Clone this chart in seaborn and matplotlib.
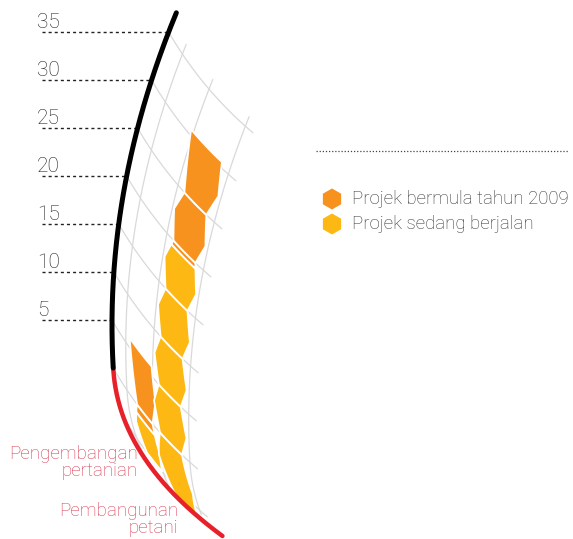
import numpy as np
import pandas as pd
import matplotlib.pyplot as plt
import seaborn as sns

# chart data
categories = ['Pengembangan\npertanian', 'Pembangunan\npetani']
bar_start = [-5.0, -6.5]      # where each bar leaves the red base curve
ongoing = [4.0, 26.0]         # Projek sedang berjalan
started_2009 = [7.0, 11.0]    # Projek bermula tahun 2009
series = ['Projek bermula tahun 2009', 'Projek sedang berjalan']
series_colors = ['#f7921e', '#fdb813']
ticks = [5, 10, 15, 20, 25, 30, 35]
cell = 5.0                    # one hexagon per 5 units

# curved scale: backbone + slanted isolines (pixel space)
X0, YV, K2 = 112.0, 325.0, 0.00066
KA, KB = 0.0022, 4e-6
Y0, PX = 368.0, 9.6
A0, Q = np.radians(30), np.radians(0.15)
lanes = [(38, 74), (73, 118)]


def backbone(u):
    u = np.asarray(u, dtype=float)
    y = Y0 - PX * u
    d = np.clip(y - Y0, 0, None)
    x = X0 + K2 * (y - YV) ** 2 + KA * d ** 2 + KB * d ** 3
    return x, y


def iso(t):
    t = np.asarray(t, dtype=float)
    ix = (np.cos(A0) - np.cos(A0 + Q * t)) / Q
    iy = (np.sin(A0 + Q * t) - np.sin(A0)) / Q
    return ix, iy


def to_xy(u, t):
    bx, by = backbone(u)
    ix, iy = iso(t)
    return bx + ix, by + iy


def hex_ut(u0, u1, tl, tr, last):
    # sheared pointy-top hexagon in (u, t) space
    ln = u1 - u0
    d = 0.3 * (tr - tl)
    h = 0.45 * ln

    def g(u):
        return d * (0.5 - (u - u0) / ln)

    pts = []
    if last:
        pts.append((u1, tl + g(u1)))
    else:
        pts.append((u1, tl + d / 2))
    pts.append((u1, tr - d / 2))
    pts.append((u0 + h, tr + g(u0 + h)))
    pts.append((u0, tr - d / 2))
    pts.append((u0, tl + d / 2))
    if not last:
        pts.append((u1 - h, tl + g(u1 - h)))
    return pts


def clip_u(pts, s, keep_below):
    out = []
    n = len(pts)
    for i in range(n):
        p, q = pts[i], pts[(i + 1) % n]
        pin = p[0] <= s if keep_below else p[0] >= s
        qin = q[0] <= s if keep_below else q[0] >= s
        if pin:
            out.append(p)
        if pin != qin:
            f = (s - p[0]) / (q[0] - p[0])
            out.append((s, p[1] + f * (q[1] - p[1])))
    return out


def to_pixels(pts, n=8):
    us, ts = [], []
    for i in range(len(pts)):
        p, q = pts[i], pts[(i + 1) % len(pts)]
        for f in np.linspace(0, 1, n, endpoint=False):
            us.append(p[0] + f * (q[0] - p[0]))
            ts.append(p[1] + f * (q[1] - p[1]))
    x, y = to_xy(np.array(us), np.array(ts))
    return x, y


def cells(start, top):
    pts = [start]
    k = np.floor(start / cell) * cell + cell
    while k < top:
        pts.append(k)
        k += cell
    pts.append(top)
    segs = [[pts[i], pts[i + 1]] for i in range(len(pts) - 1)]
    if len(segs) > 1 and segs[0][1] - segs[0][0] < 2:
        first = segs.pop(0)
        segs[0][0] = first[0]
    if len(segs) > 1 and segs[-1][1] - segs[-1][0] < 2:
        last = segs.pop()
        segs[-1][1] = last[1]
    return segs


sns.set_style('white')
plt.rcParams['font.family'] = ['Roboto', 'DejaVu Sans']

fig = plt.figure(figsize=(5.73, 5.39), dpi=100)
ax = fig.add_axes([0, 0, 1, 1])

# gray grid
rows = []
gid = 0
for t in [26, 70, 122]:
    u = np.linspace(-8.5 + 0.025 * t, 36, 120)
    x, y = to_xy(u, np.full_like(u, t))
    rows += [(gid, a, b) for a, b in zip(x, y)]
    gid += 1
for u0 in np.arange(-5, 36, 5):
    t = np.linspace(0, 132, 80)
    x, y = to_xy(np.full_like(t, u0), t)
    rows += [(gid, a, b) for a, b in zip(x, y)]
    gid += 1
grid_df = pd.DataFrame(rows, columns=['id', 'x', 'y'])
sns.lineplot(data=grid_df, x='x', y='y', units='id', estimator=None, sort=False,
             color='#d9d9d9', lw=0.9, ax=ax, legend=False, zorder=1)

# hexagon columns
for i in range(len(categories)):
    tl, tr = lanes[i]
    start = bar_start[i]
    split = start + ongoing[i]
    top = split + started_2009[i]
    segs = cells(start, top)
    for j, (u0, u1) in enumerate(segs):
        poly = hex_ut(u0, u1, tl, tr, j == len(segs) - 1)
        parts = []
        if u1 <= split:
            parts.append((poly, series_colors[1]))
        elif u0 >= split:
            parts.append((poly, series_colors[0]))
        else:
            parts.append((clip_u(poly, split, True), series_colors[1]))
            parts.append((clip_u(poly, split, False), series_colors[0]))
        for p, c in parts:
            x, y = to_pixels(p)
            ax.fill(x, y, facecolor=c, edgecolor='white', lw=1.3, zorder=2)

# backbone: black value scale, red base
ub = np.linspace(0, 37, 200)
ur = np.linspace(-17.5, 0, 200)
bx, by = backbone(ub)
rx, ry = backbone(ur)
sns.lineplot(x=rx, y=ry, sort=False, color='#e8202a', lw=3.2, ax=ax, zorder=3)
sns.lineplot(x=bx, y=by, sort=False, color='black', lw=3.6, ax=ax, zorder=4,
             solid_capstyle='round')

# value ticks
for v in ticks:
    x, y = backbone(v)
    ax.plot([42, x], [y, y], color='#222222', lw=1.0, ls=(0, (2.2, 2.2)), zorder=1)
    ax.text(37, y - 4, str(v), fontsize=15, color='#222222', ha='left',
            va='baseline', fontweight='light')

# category labels
ax.text(138, 445, categories[0], fontsize=13.5, color='#d63a52', ha='right',
        va='top', linespacing=0.95, fontweight='light')
ax.text(178, 502, categories[1], fontsize=13.5, color='#d63a52', ha='right',
        va='top', linespacing=0.95, fontweight='light')

# legend
ax.plot([316, 568], [151, 151], color='#444444', lw=0.9, ls=(0, (1, 1.5)))
leg_y = [199, 224]
sns.scatterplot(x=[332, 332], y=leg_y, hue=series, palette=series_colors,
                marker='h', s=230, linewidth=0, ax=ax, legend=False, zorder=3)
for lab, y in zip(series, leg_y):
    ax.text(352, y, lab, fontsize=13.4, color='#333333', va='center', ha='left',
            fontweight='light')

ax.set_xlim(0, 573)
ax.set_ylim(539, 0)
ax.axis('off')
fig.savefig('out.png', dpi=100)
